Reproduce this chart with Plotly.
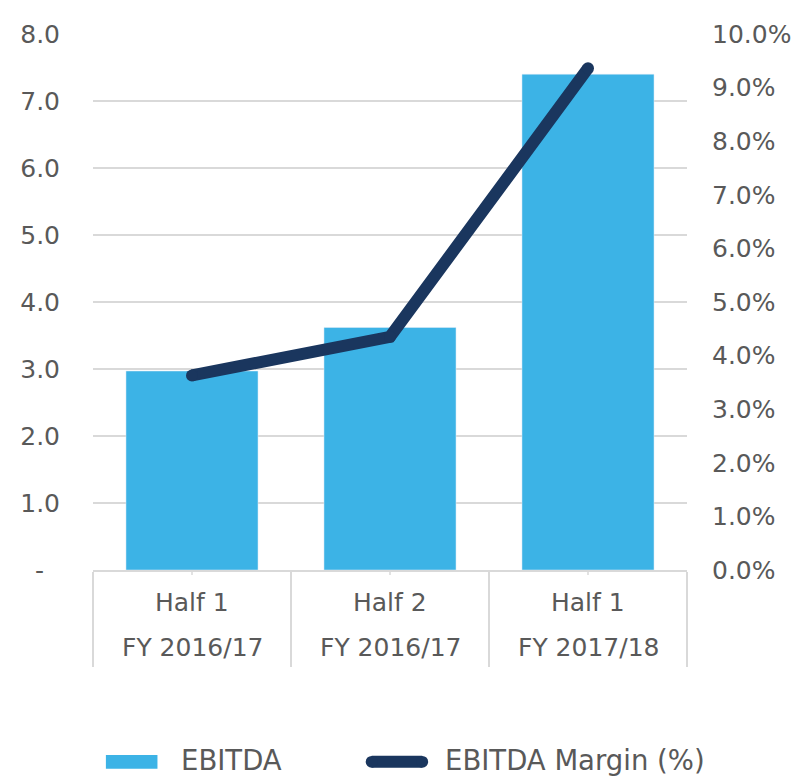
import plotly.graph_objects as go

# ---- data ----
half_labels = ["Half 1", "Half 2", "Half 1"]
fy_labels = ["FY 2016/17", "FY 2016/17", "FY 2017/18"]
ebitda = [2.97, 3.62, 7.40]
margin_pct = [3.63, 4.35, 9.36]
left_ticks = [0, 1, 2, 3, 4, 5, 6, 7, 8]
left_ticktext = ["-\u2007", "1.0", "2.0", "3.0", "4.0", "5.0", "6.0", "7.0", "8.0"]
right_ticks = [0, 1, 2, 3, 4, 5, 6, 7, 8, 9, 10]
right_ticktext = ["%.1f%%" % v for v in right_ticks]

# ---- style ----
OFF = 8  # page body margin
W, H = 803 - OFF, 777 - OFF
ML, MR, MT, MB = 90 - OFF, 114, 25 - OFF, 207
PW, PH = W - ML - MR, H - MT - MB
BAR_COLOR = "#3cb3e6"
LINE_COLOR = "#1a365e"
GRID = "#d9d9d9"
TXT = "#595959"
FONT = "DejaVu Sans"

cats = list(range(len(ebitda)))

def px_x(px):
    return (px - OFF - ML) / PW

def px_y(py):
    return (H - MB - (py - OFF)) / PH

fig = go.Figure()
fig.add_trace(go.Bar(x=cats, y=ebitda, marker_color=BAR_COLOR, name="EBITDA",
                     showlegend=False))
fig.add_trace(go.Scatter(x=cats, y=margin_pct, yaxis="y2", mode="lines+markers",
                         line=dict(color=LINE_COLOR, width=12),
                         marker=dict(color=LINE_COLOR, size=12),
                         name="EBITDA Margin (%)", showlegend=False))

annotations = []
for i in cats:
    annotations.append(dict(x=i, y=0, xref="x", yref="paper", text=half_labels[i],
                            showarrow=False, yanchor="middle", yshift=-32,
                            font=dict(family=FONT, size=25, color=TXT)))
    annotations.append(dict(x=i, y=0, xref="x", yref="paper", text=fy_labels[i],
                            showarrow=False, yanchor="middle", yshift=-77,
                            font=dict(family=FONT, size=25, color=TXT)))

shapes = []
for i in cats:
    shapes.append(dict(type="line", xref="x", yref="paper", x0=i, x1=i,
                       y0=0, y1=-5 / PH, line=dict(color=GRID, width=1.5)))

# custom legend
shapes.append(dict(type="rect", xref="paper", yref="paper",
                   x0=px_x(103), x1=px_x(155), y0=px_y(772), y1=px_y(758),
                   fillcolor=BAR_COLOR, line=dict(width=0)))
shapes.append(dict(type="line", xref="paper", yref="paper",
                   x0=px_x(371), x1=px_x(422), y0=px_y(765), y1=px_y(765),
                   line=dict(color=LINE_COLOR, width=12)))
shapes.append(dict(type="circle", xref="paper", yref="paper",
                   x0=px_x(365), x1=px_x(377), y0=px_y(771), y1=px_y(759),
                   fillcolor=LINE_COLOR, line=dict(width=0)))
shapes.append(dict(type="circle", xref="paper", yref="paper",
                   x0=px_x(416), x1=px_x(428), y0=px_y(771), y1=px_y(759),
                   fillcolor=LINE_COLOR, line=dict(width=0)))
annotations.append(dict(x=px_x(177), y=px_y(763), xref="paper", yref="paper",
                        text="EBITDA", showarrow=False, xanchor="left", yanchor="middle",
                        font=dict(family=FONT, size=27.5, color=TXT)))
annotations.append(dict(x=px_x(443), y=px_y(763), xref="paper", yref="paper",
                        text="EBITDA Margin (%)", showarrow=False, xanchor="left",
                        yanchor="middle", font=dict(family=FONT, size=27.5, color=TXT)))

fig.update_layout(
    width=W, height=H, autosize=False,
    margin=dict(l=ML, r=MR, t=MT, b=MB, pad=0),
    plot_bgcolor="white", paper_bgcolor="white",
    bargap=0.333,
    showlegend=False,
    font=dict(family=FONT, size=25, color=TXT),
    xaxis=dict(type="linear", range=[-0.5, 2.5], tickvals=[-0.5, 0.5, 1.5, 2.5],
               showticklabels=False, ticks="outside", ticklen=95, tickwidth=1.5,
               tickcolor=GRID, showgrid=False, zeroline=False,
               showline=True, linecolor=GRID, linewidth=1.5),
    yaxis=dict(range=[0, 8], tickvals=left_ticks, ticktext=left_ticktext,
               showgrid=True, gridcolor=GRID, gridwidth=1.5, zeroline=False,
               ticks="", ticklabelstandoff=32,
               tickfont=dict(family=FONT, size=25, color=TXT)),
    yaxis2=dict(range=[0, 10], tickvals=right_ticks, ticktext=right_ticktext,
                overlaying="y", side="right", showgrid=False, zeroline=False,
                ticks="", ticklabelstandoff=24,
                tickfont=dict(family=FONT, size=25, color=TXT)),
    annotations=annotations,
    shapes=shapes,
)

fig.write_html("out.html")
